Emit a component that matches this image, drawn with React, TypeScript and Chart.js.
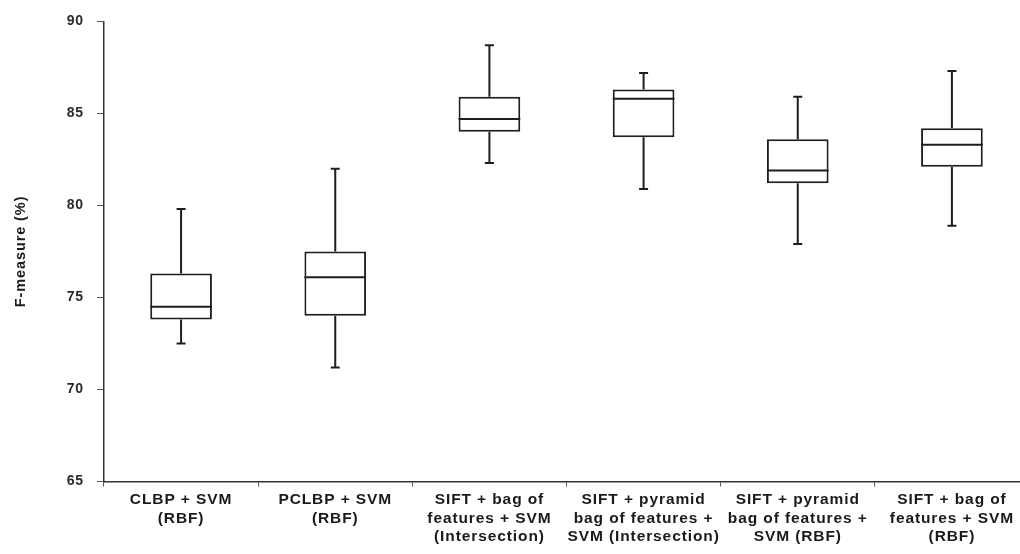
import React, { useEffect, useRef } from "react";
import { Chart, registerables } from "chart.js";

Chart.register(...registerables);

const categories: string[][] = [
  ["CLBP + SVM", "(RBF)"],
  ["PCLBP + SVM", "(RBF)"],
  ["SIFT + bag of", "features + SVM", "(Intersection)"],
  ["SIFT + pyramid", "bag of features +", "SVM (Intersection)"],
  ["SIFT + pyramid", "bag of features +", "SVM (RBF)"],
  ["SIFT + bag of", "features + SVM", "(RBF)"],
];
const whiskerLow = [72.5, 71.2, 82.3, 80.9, 77.9, 78.9];
const q1 = [73.8, 74.0, 84.0, 83.7, 81.2, 82.1];
const median = [74.5, 76.1, 84.7, 85.8, 81.9, 83.3];
const q3 = [76.3, 77.5, 85.9, 86.3, 83.6, 84.2];
const whiskerHigh = [79.8, 82.0, 88.7, 87.2, 85.9, 87.3];
const yMin = 65;
const yMax = 90;
const yStep = 5;
const yTitle = "F-measure (%)";

const INK = "#1e1e1e";
const FONT = "'Liberation Sans', Arial, sans-serif";

const spacingPlugin = {
  id: "letterSpacing",
  beforeDraw(chart: any) {
    (chart.ctx as any).letterSpacing = "0.9px";
  },
};

const boxPlugin = {
  id: "boxWhiskers",
  beforeDatasetsDraw(chart: any) {
    const meta = chart.getDatasetMeta(0);
    const y = chart.scales.y;
    const ctx = chart.ctx;
    ctx.save();
    ctx.strokeStyle = INK;
    ctx.lineWidth = 2;
    meta.data.forEach((bar: any, i: number) => {
      const { x } = bar.getProps(["x"], true);
      const yHi = y.getPixelForValue(whiskerHigh[i]);
      const yQ3 = y.getPixelForValue(q3[i]);
      const yQ1 = y.getPixelForValue(q1[i]);
      const yLo = y.getPixelForValue(whiskerLow[i]);
      ctx.beginPath();
      ctx.moveTo(x, yHi);
      ctx.lineTo(x, yQ3);
      ctx.moveTo(x, yQ1);
      ctx.lineTo(x, yLo);
      ctx.moveTo(x - 4.5, yHi);
      ctx.lineTo(x + 4.5, yHi);
      ctx.moveTo(x - 4.5, yLo);
      ctx.lineTo(x + 4.5, yLo);
      ctx.stroke();
    });
    ctx.restore();
  },
  afterDatasetsDraw(chart: any) {
    const meta = chart.getDatasetMeta(0);
    const y = chart.scales.y;
    const ctx = chart.ctx;
    ctx.save();
    ctx.strokeStyle = INK;
    ctx.lineWidth = 2;
    meta.data.forEach((bar: any, i: number) => {
      const { x, width } = bar.getProps(["x", "width"], true);
      const yM = y.getPixelForValue(median[i]);
      ctx.beginPath();
      ctx.moveTo(x - width / 2, yM);
      ctx.lineTo(x + width / 2, yM);
      ctx.stroke();
    });
    ctx.restore();
  },
};

export default function App() {
  const ref = useRef<HTMLCanvasElement | null>(null);
  useEffect(() => {
    if (!ref.current) return;
    const chart = new Chart(ref.current, {
      type: "bar",
      data: {
        labels: categories as any,
        datasets: [
          {
            data: q1.map((v, i) => [v, q3[i]]) as any,
            backgroundColor: "#ffffff",
            borderColor: INK,
            borderWidth: 2,
            borderSkipped: false,
            barPercentage: 0.4,
            categoryPercentage: 1,
          },
        ],
      },
      options: {
        animation: false,
        responsive: false,
        devicePixelRatio: 1,
        layout: { padding: { top: 20, right: 11, bottom: 0, left: 0 } },
        plugins: {
          legend: { display: false },
          tooltip: { enabled: false },
        },
        scales: {
          x: {
            type: "category",
            offset: true,
            afterFit: (s: any) => {
              s.height = 72.5;
            },
            grid: {
              offset: true,
              drawOnChartArea: false,
              drawTicks: true,
              tickLength: 5,
              color: "#555",
              lineWidth: 1,
            },
            border: { display: true, color: "#333", width: 1.5 },
            ticks: {
              color: "#1a1a1a",
              padding: 4,
              maxRotation: 0,
              autoSkip: false,
              font: { family: FONT, size: 15.5, weight: "bold", lineHeight: 1.2 },
            },
          },
          y: {
            min: yMin,
            max: yMax,
            afterFit: (s: any) => {
              s.width = 104;
            },
            grid: {
              drawOnChartArea: false,
              drawTicks: true,
              tickLength: 7,
              color: "#555",
              lineWidth: 1,
            },
            border: { display: true, color: "#333", width: 1.5 },
            ticks: {
              stepSize: yStep,
              color: "#2a2a2a",
              padding: 13,
              font: { family: FONT, size: 14, weight: "bold" },
            },
            title: {
              display: true,
              text: yTitle,
              color: "#1a1a1a",
              padding: { top: 12, bottom: 4 },
              font: { family: FONT, size: 14.5, weight: "bold" },
            },
          },
        },
      },
      plugins: [spacingPlugin, boxPlugin],
    });
    return () => chart.destroy();
  }, []);
  return (
    <div
      style={{
        position: "fixed",
        left: 0,
        top: 0,
        width: "100vw",
        height: "100vh",
        overflow: "hidden",
        background: "#ffffff",
      }}
    >
      <canvas ref={ref} width={1040} height={554} style={{ display: "block" }} />
    </div>
  );
}
